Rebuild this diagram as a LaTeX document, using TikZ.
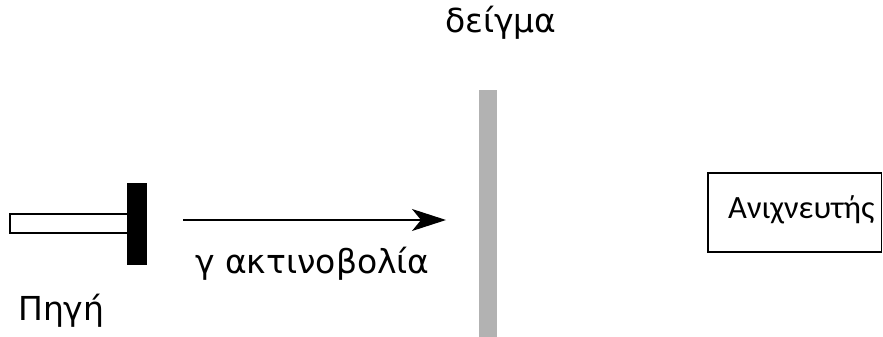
\documentclass[tikz,border=0pt]{standalone}
\usepackage{fontspec}
\setmainfont{DejaVu Sans}
\newfontfamily\detfont{Carlito}
\usetikzlibrary{arrows.meta}
\begin{document}
\begin{tikzpicture}[x=1pt,y=-1pt,
  lbl/.style={inner sep=0pt,anchor=base west,font=\fontsize{33}{36}\selectfont},
  tube/.style={draw=black,line width=2pt,fill=white},
  plate/.style={fill=black},
  samplebar/.style={fill=black!30},
  detbox/.style={draw=black,line width=1.5pt},
  ray/.style={line width=1.3pt,-{Stealth[length=34pt,width=22pt,inset=9pt]}}]
\useasboundingbox (0,0) rectangle (883,337);
% source
\draw[tube] (10,214) rectangle (128,233);
\fill[plate] (127,183) rectangle (147,265);
\node[lbl] (src) at (18,320) {Πηγή};
% ray
\coordinate (r0) at (183,220);
\coordinate (r1) at (446,220);
\draw[ray] (r0) -- (r1);
\node[lbl] (raylbl) at (195,273) {γ ακτινοβολία};
% sample
\fill[samplebar] (479,90) rectangle (497,337);
\node[lbl] (smp) at (445,33) {δείγμα};
% detector
\draw[detbox] (708,173) rectangle (881.5,252);
\node[lbl,font=\detfont\fontsize{32.5}{35}\selectfont] (det) at (728,218) {Ανιχνευτής};
\end{tikzpicture}
\end{document}
